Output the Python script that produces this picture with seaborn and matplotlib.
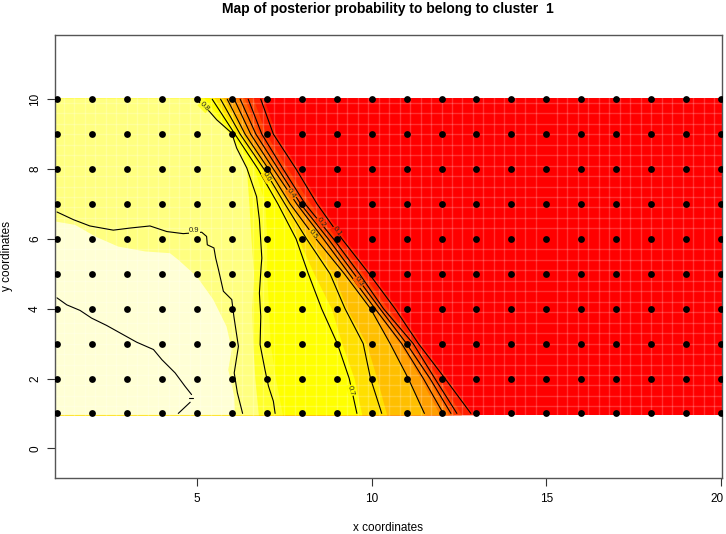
import matplotlib
import matplotlib.pyplot as plt
from matplotlib.ticker import MultipleLocator
from matplotlib.transforms import ScaledTranslation
import numpy as np
import pandas as pd
import seaborn as sns

matplotlib.use("Agg")

# sampling grid
GRID_X = list(range(1, 21))
GRID_Y = list(range(1, 11))

# y of the rows the band edges and contours were read on
ROW_Y = [10.04, 9, 8, 7, 6, 5, 4, 3, 2, 0.96]

# band edges, x read per row, from high to low probability
EDGE_LIGHT_X = [0.94, 1.52, 2.09, 2.75, 3.52, 4.23, 4.47, 5.0, 5.47, 5.85, 6.0, 5.9, 6.07, 6.09]
EDGE_LIGHT_Y = [6.5, 6.4, 6.07, 5.78, 5.64, 5.59, 5.4, 4.92, 4.26, 3.49, 2.83, 2.25, 1.49, 0.96]
EDGE_833 = [5.0, 5.95, 6.42, 6.49, 6.55, 6.62, 6.57, 6.6, 6.66, 6.76]
EDGE_750 = [5.2, 6.02, 6.65, 6.95, 7.0, 7.0, 7.05, 7.1, 7.25, 7.45]
EDGE_667 = [5.5, 6.15, 6.85, 7.38, 7.9, 8.35, 8.85, 9.15, 9.5, 9.72]
EDGE_583 = [5.75, 6.3, 6.97, 7.58, 8.2, 8.9, 9.29, 9.85, 10.15, 10.43]
EDGE_500 = [5.87, 6.38, 7.05, 7.67, 8.41, 9.22, 9.97, 10.53, 11.05, 11.51]
EDGE_417 = [6.03, 6.52, 7.17, 7.83, 8.58, 9.33, 10.07, 10.8, 11.4, 11.95]
EDGE_333 = [6.2, 6.65, 7.3, 7.94, 8.72, 9.46, 10.2, 10.96, 11.62, 12.2]
EDGE_250 = [6.35, 6.78, 7.4, 8.03, 8.83, 9.58, 10.29, 11.1, 11.75, 12.35]
EDGE_167 = [6.6, 6.98, 7.6, 8.25, 9.0, 9.75, 10.46, 11.25, 11.92, 12.57]
EDGE_083 = [6.9, 7.27, 7.92, 8.52, 9.23, 10.0, 10.75, 11.42, 12.18, 12.92]

BAND_EDGES = [EDGE_083, EDGE_167, EDGE_250, EDGE_333, EDGE_417, EDGE_500,
              EDGE_583, EDGE_667, EDGE_750, EDGE_833]
BAND_COLORS = ["#FF2000", "#FF4000", "#FF6000", "#FF8000", "#FF9F00", "#FFBF00",
               "#FFDF00", "#FFFF00", "#FFFF2A", "#FFFF80"]

# contour lines
C01_X = [6.83, 7.19, 7.84, 8.44, 9.15, 9.93, 10.67, 11.34, 12.10, 12.84]
C02_X = [6.47, 6.86, 7.47, 8.10, 8.91, 9.65, 10.34, 11.19, 11.81, 12.44]
C03_X = [6.24, 6.69, 7.33, 7.97, 8.76, 9.50, 10.24, 11.0, 11.67, 12.27]
C04_X = [6.07, 6.54, 7.19, 7.86, 8.62, 9.36, 10.10, 10.86, 11.48, 12.05]
C05_X = [5.87, 6.38, 7.05, 7.67, 8.41, 9.22, 9.97, 10.53, 11.05, 11.51]
C06_X = [5.68, 6.24, 6.92, 7.52, 8.14, 8.81, 9.24, 9.76, 9.97, 10.29]
C07_X = [5.44, 6.09, 6.75, 7.32, 7.84, 8.19, 8.57, 9.02, 9.36, 9.58]
C_ROW_Y = [10, 9, 8, 7, 6, 5, 4, 3, 2, 1]

C08_X = [4.98, 5.36, 5.57, 6.0, 6.14, 6.43, 6.71, 6.79, 6.86, 6.84, 6.79, 6.83, 6.81, 6.95, 7.05, 7.19, 7.24]
C08_Y = [10, 9.65, 9.41, 9.03, 8.6, 8.03, 7.21, 6.55, 5.45, 5.21, 4.45, 3.78, 2.97, 2.25, 1.78, 1.35, 1.0]
C09_X = [1.0, 1.47, 1.94, 2.61, 3.09, 3.66, 4.14, 4.61, 5.14, 5.28, 5.30, 5.49, 5.54, 5.62, 5.76, 6.0, 6.06, 6.19, 6.07, 6.16, 6.31]
C09_Y = [6.77, 6.55, 6.37, 6.25, 6.31, 6.37, 6.21, 6.15, 6.19, 6.07, 5.83, 5.74, 5.45, 5.12, 4.5, 4.26, 3.78, 2.92, 2.16, 1.59, 1.0]
C095_X = [1.0, 1.28, 1.66, 1.99, 2.42, 2.85, 3.28, 3.76, 4.0, 4.38, 4.66, 4.85]
C095_Y = [4.31, 4.11, 3.95, 3.73, 3.52, 3.28, 3.04, 2.83, 2.54, 2.16, 1.78, 1.54]
C095B_X = [4.81, 4.47]
C095B_Y = [1.32, 1.0]
C095C_X = [4.78, 4.88]
C095C_Y = [1.45, 1.45]

# contour labels
LABEL_TEXT = ["0.9", "0.8", "0.7", "0.6", "0.5", "0.4", "0.3", "0.2", "0.1"]
LABEL_X = [4.93, 5.21, 9.41, 7.0, 8.33, 7.70, 9.64, 8.55, 9.0]
LABEL_Y = [6.23, 9.79, 1.66, 7.77, 6.14, 7.29, 4.78, 6.48, 6.21]
LABEL_ROT = [0, -45, -75, -60, -55, -55, -55, -55, -55]
LABEL_BG = ["#FFFF80", "#FFFF2A", "#FFFF00", "#FFDF00", "#FFBF00", "#FF8000", "#FF6000", "#FF4000", "#FF2000"]


def contour_table():
    parts = [(C01_X, C_ROW_Y), (C02_X, C_ROW_Y), (C03_X, C_ROW_Y), (C04_X, C_ROW_Y),
             (C05_X, C_ROW_Y), (C06_X, C_ROW_Y), (C07_X, C_ROW_Y), (C08_X, C08_Y),
             (C09_X, C09_Y), (C095_X, C095_Y), (C095B_X, C095B_Y), (C095C_X, C095C_Y)]
    frames = [pd.DataFrame({"x": xs, "y": ys, "seg": i}) for i, (xs, ys) in enumerate(parts)]
    return pd.concat(frames, ignore_index=True)


sns.set_theme(style="ticks", rc={"text.color": "black", "axes.labelcolor": "black"})
plt.rcParams["font.family"] = ["Liberation Sans", "DejaVu Sans"]

fig = plt.figure(figsize=(7.26, 5.34), dpi=100)
ax = fig.add_axes([55 / 726, 1 - 478 / 534, 666.5 / 726, 443 / 534])

# image bands, painted from low to high probability
ax.fill_betweenx(ROW_Y, 0.94, 20.02, color="#FF0000", linewidth=0)
for edge, color in zip(BAND_EDGES, BAND_COLORS):
    ax.fill_betweenx(ROW_Y, 0.94, edge, color=color, linewidth=0)
ax.fill(EDGE_LIGHT_X + [0.94], EDGE_LIGHT_Y + [0.96], color="#FFFFD5", linewidth=0)

# faint seams between image cells
ax.xaxis.set_minor_locator(MultipleLocator(0.3))
ax.yaxis.set_minor_locator(MultipleLocator(0.3))
ax.grid(True, which="minor", color="white", alpha=0.2, linewidth=1)
ax.grid(False, which="major")
ax.set_axisbelow("line")
ax.tick_params(which="minor", length=0)

sns.lineplot(data=contour_table(), x="x", y="y", units="seg", estimator=None, sort=False,
             color="black", linewidth=0.8, legend=False, ax=ax)

for txt, x, y, rot, bg in zip(LABEL_TEXT, LABEL_X, LABEL_Y, LABEL_ROT, LABEL_BG):
    ax.text(x, y, txt, fontsize=5.5, rotation=rot, ha="center", va="center", color="#222222",
            zorder=2.5, rotation_mode="anchor",
            bbox=dict(facecolor=bg, edgecolor="none", pad=0.3))

gx, gy = np.meshgrid(GRID_X, GRID_Y)
sns.scatterplot(x=gx.ravel(), y=gy.ravel(), color="black", s=24, linewidth=0, zorder=3, ax=ax)

ax.set_xlim(0.943, 20.01)
ax.set_ylim(-0.85, 11.84)
ax.set_xticks([5, 10, 15, 20])
ax.set_yticks([0, 2, 4, 6, 8, 10])
ax.tick_params(axis="both", which="major", length=6, width=0.8, color="#333333", labelsize=8.5,
               labelcolor="black")
ax.tick_params(axis="x", which="major", pad=5)
ax.tick_params(axis="y", which="major", pad=4)
plt.setp(ax.get_yticklabels(), rotation=90, va="center")

# keep the last x tick label inside the figure
last = ax.get_xticklabels()[-1]
last.set_transform(last.get_transform() + ScaledTranslation(-3 / 72, 0, fig.dpi_scale_trans))

for side in ax.spines.values():
    side.set_color("#555555")
    side.set_linewidth(1)

ax.set_xlabel("x coordinates", fontsize=8.5, labelpad=0)
ax.set_ylabel("y coordinates", fontsize=8.5, labelpad=0)
ax.xaxis.set_label_coords(0.5, -44 / 443, transform=ax.transAxes)
ax.yaxis.set_label_coords(-42 / 666.5, 0.5, transform=ax.transAxes)
ax.set_title("Map of posterior probability to belong to cluster  1", fontsize=10,
             fontweight="bold", pad=16)

fig.savefig("out.png", dpi=100)
plt.close(fig)
